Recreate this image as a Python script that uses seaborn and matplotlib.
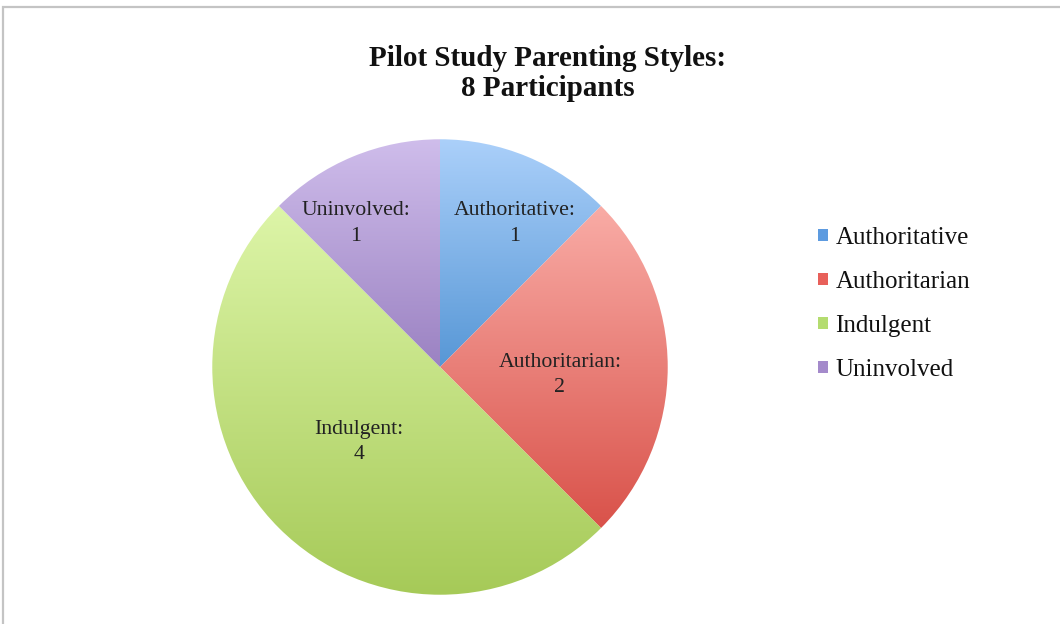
import numpy as np
import matplotlib
matplotlib.use("Agg")
import matplotlib.pyplot as plt
import matplotlib.colors as mcolors
from matplotlib.patches import Patch, Rectangle
import seaborn as sns

categories = ["Authoritative", "Authoritarian", "Indulgent", "Uninvolved"]
counts = [1, 2, 4, 1]
title_lines = ["Pilot Study Parenting Styles:", "8 Participants"]

top_colors = ["#abd0fa", "#f9aca6", "#ddf5a8", "#cfbdeb"]
bottom_colors = ["#5797d6", "#d9524a", "#a6ca58", "#9b82c2"]
legend_colors = ["#5d9be0", "#e8605a", "#b4dc70", "#a48acb"]

sns.set_theme(style="white")
plt.rcParams["font.family"] = ["Liberation Serif", "DejaVu Serif"]

fig = plt.figure(figsize=(10.6, 6.24), dpi=100)
fig.patch.set_facecolor("white")

# outer frame
fig.add_artist(Rectangle((3 / 1060, -0.05), 1.1, 1 - 7 / 624 + 0.05,
                         transform=fig.transFigure, fill=False,
                         edgecolor="#c4c4c4", linewidth=1.6))

ax = fig.add_axes([210 / 1060, (624 - 597) / 624, 460 / 1060, 460 / 624])
wedges, _ = ax.pie(counts, startangle=90, counterclock=False, radius=1,
                   colors=legend_colors, wedgeprops=dict(linewidth=0))
ax.set_aspect("equal")
ax.axis("off")

# vertical gradient fill per wedge
for w, ctop, cbot in zip(wedges, top_colors, bottom_colors):
    t = np.linspace(np.radians(w.theta1), np.radians(w.theta2), 200)
    ys = np.concatenate([np.sin(t), [0]])
    ymin, ymax = ys.min(), ys.max()
    cmap = mcolors.LinearSegmentedColormap.from_list("g", [cbot, ctop])
    grad = np.linspace(0, 1, 256).reshape(-1, 1)
    im = ax.imshow(grad, extent=[-1, 1, ymin, ymax], origin="lower",
                   cmap=cmap, aspect="auto", zorder=2)
    im.set_clip_path(w)
    w.set_facecolor("none")

ax.set_xlim(-1.01, 1.01)
ax.set_ylim(-1.01, 1.01)

def px(x, y):
    return ((x - 440) / 230, (367 - y) / 230)

label_pos = [(515, 222), (561, 375), (358, 443), (355, 222)]
for cat, n, (lx, ly) in zip(categories, counts, label_pos):
    x, y = px(lx, ly)
    ax.text(x, y, f"{cat}:\n{n}", ha="center", va="center", fontsize=15.7,
            color="#222222", zorder=5, linespacing=1.45)

fig.text(548 / 1060, 1 - 58 / 624, title_lines[0], ha="center", va="center",
         fontsize=21, fontweight="bold", color="#111111")
fig.text(548 / 1060, 1 - 88 / 624, title_lines[1], ha="center", va="center",
         fontsize=21, fontweight="bold", color="#111111")

handles = [Patch(facecolor=c, edgecolor="none") for c in legend_colors]
leg = fig.legend(handles, categories, loc="upper left",
                 bbox_to_anchor=(818 / 1060, 1 - 227 / 624), frameon=False,
                 fontsize=18, handlelength=0.4, handleheight=0.4,
                 handletextpad=0.3, labelspacing=0.88, borderaxespad=0,
                 borderpad=0)
for t in leg.get_texts():
    t.set_color("#111111")

fig.savefig("out.png", dpi=100, facecolor="white")
